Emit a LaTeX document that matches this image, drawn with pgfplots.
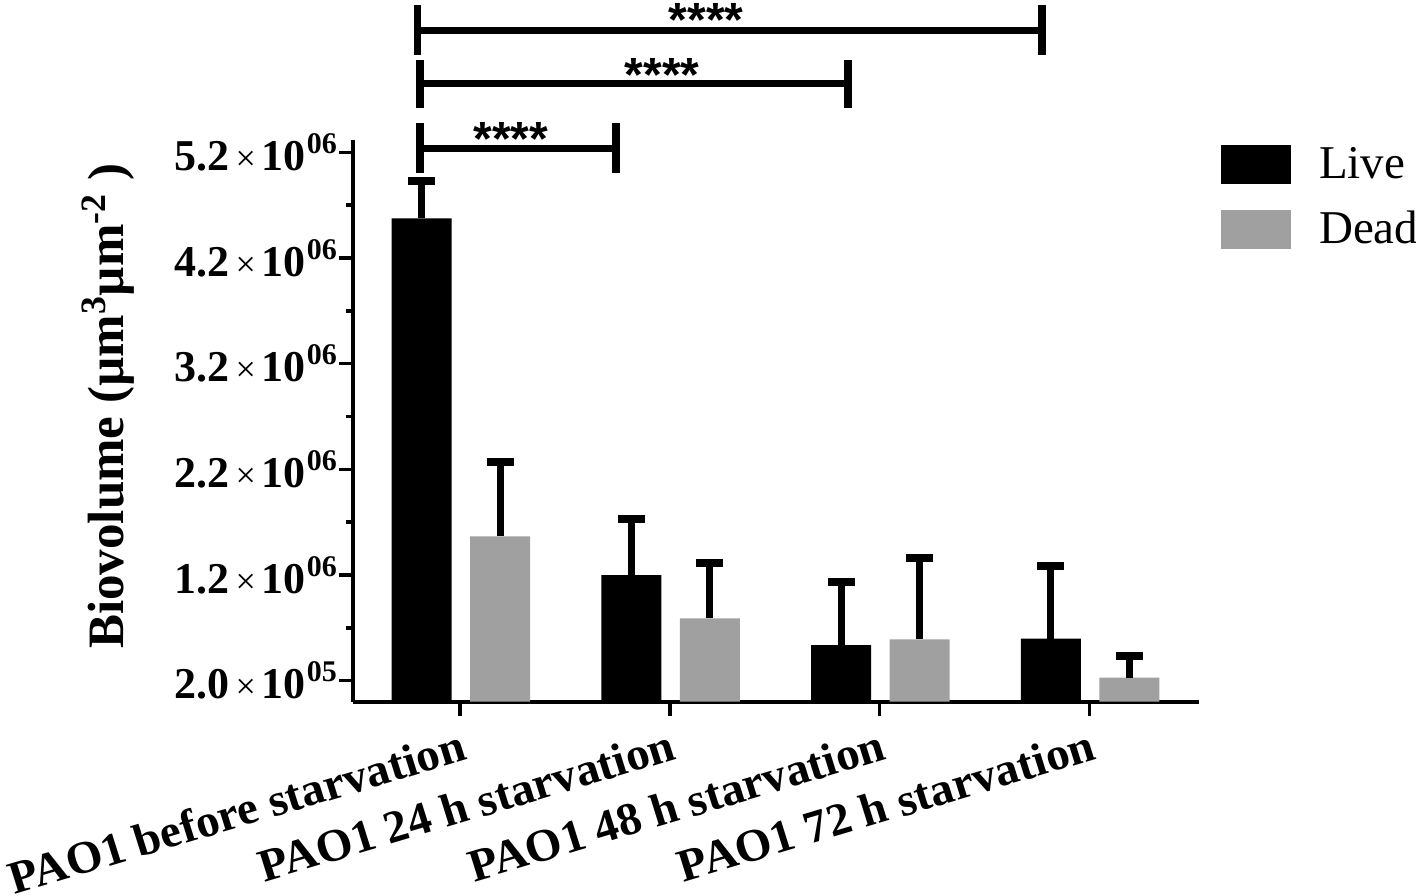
\documentclass[border=0pt]{standalone}
\usepackage{pgfplots}
\pgfplotsset{compat=1.18}
\usepackage{fontspec}
\setmainfont{Liberation Serif}
\newfontfamily\starfont{Liberation Sans}
\definecolor{deadgray}{RGB}{160,160,160}
\newcommand{\ytl}[2]{\textbf{#1}\hspace{3pt}{\mdseries\fontsize{18}{18}\selectfont ×}\hspace{3pt}\textbf{10}\hspace{0.5pt}\raisebox{8.5pt}{\fontsize{15}{15}\selectfont\bfseries #2}}
\begin{document}
\begin{tikzpicture}
\begin{axis}[
  scale only axis,
  width=423pt, height=280.85pt,
  xmin=-0.5087, xmax=3.524,
  ymin=0, ymax=5.317e6,
  axis x line*=bottom, axis y line*=left,
  axis line style={line width=2pt, -},
  xtick={0,1,2,3},
  xticklabels={PAO1 before starvation, PAO1 24 h starvation, PAO1 48 h starvation, PAO1 72 h starvation},
  xticklabel style={font=\fontsize{23}{25}\selectfont\bfseries, anchor=north east, inner sep=0pt, yshift=-6pt, xshift=-0.5pt, xscale=1.025, rotate=17},
  ytick={2e5,1.2e6,2.2e6,3.2e6,4.2e6,5.2e6},
  yticklabels={\ytl{2.0}{05},\ytl{1.2}{06},\ytl{2.2}{06},\ytl{3.2}{06},\ytl{4.2}{06},\ytl{5.2}{06}},
  minor ytick={7e5,1.7e6,2.7e6,3.7e6,4.7e6},
  scaled y ticks=false,
  tick align=outside,
  major tick length=7pt, minor tick length=3.5pt,
  every tick/.style={line width=1.75pt, black},
  yticklabel style={font=\fontsize{22}{23}\selectfont, inner sep=1pt},
  ylabel={\textbf{Biovolume (µm\textsuperscript{3}µm\textsuperscript{-2} )}},
  ylabel style={font=\fontsize{25.5}{27}\selectfont, at={(axis description cs:-0.29,0.526)}, anchor=center},
  ybar, bar width=30pt,
  clip=false,
  legend style={at={(axis description cs:1.0253,0.9911)}, anchor=north west, draw=none, fill=none,
    inner sep=0pt, nodes={inner sep=0pt}, cells={anchor=west}, row sep=13pt,
    font=\fontsize{23.5}{25}\selectfont,
    /tikz/every odd column/.append style={column sep=14.3pt}},
]
\coordinate (sw) at (rel axis cs:0,0);
\addplot[fill=black, draw=none, bar shift=-19.2pt, forget plot,
  error bars/.cd, y dir=plus, y explicit,
  error bar style={line width=3.5pt, draw=black},
  error mark options={rotate=90, line width=4pt, mark size=6.75pt, draw=black}]
  coordinates {(0,4575000) +- (0,355000) (1,1198000) +- (0,527000) (2,535000) +- (0,594000) (3,598000) +- (0,684000)};
\addplot[fill=deadgray, draw=none, bar shift=20pt, forget plot,
  error bars/.cd, y dir=plus, y explicit,
  error bar style={line width=3.5pt, draw=black},
  error mark options={rotate=90, line width=4pt, mark size=6.75pt, draw=black}]
  coordinates {(0,1566000) +- (0,705000) (1,788000) +- (0,521000) (2,591000) +- (0,774000) (3,228000) +- (0,205000)};
\addlegendimage{legend image code/.code={\fill[black] (0pt,-9.425pt) rectangle (34.3pt,9.425pt);}}
\addlegendentry{Live}
\addlegendimage{legend image code/.code={\fill[deadgray] (0pt,-9.425pt) rectangle (34.3pt,9.425pt);}}
\addlegendentry{Dead}
% significance brackets
\draw[line width=3.6pt, line cap=butt] (axis cs:-0.2017,6.595e6) -- (axis cs:-0.2017,6.121e6);
\draw[line width=3.6pt, line cap=butt] (axis cs:2.7745,6.595e6) -- (axis cs:2.7745,6.121e6);
\draw[line width=3.6pt] (axis cs:-0.2017,6.351e6) -- (axis cs:2.7745,6.351e6);
\draw[line width=3.6pt, line cap=butt] (axis cs:-0.1907,6.074e6) -- (axis cs:-0.1907,5.619e6);
\draw[line width=3.6pt, line cap=butt] (axis cs:1.8497,6.074e6) -- (axis cs:1.8497,5.619e6);
\draw[line width=3.6pt] (axis cs:-0.1907,5.853e6) -- (axis cs:1.8497,5.853e6);
\draw[line width=3.6pt, line cap=butt] (axis cs:-0.1907,5.477e6) -- (axis cs:-0.1907,5.004e6);
\draw[line width=3.6pt, line cap=butt] (axis cs:0.7437,5.477e6) -- (axis cs:0.7437,5.004e6);
\draw[line width=3.6pt] (axis cs:-0.1907,5.238e6) -- (axis cs:0.7437,5.238e6);
\node[font=\starfont\bfseries\fontsize{24}{24}\selectfont, anchor=north, inner sep=0pt] at (axis cs:1.173,6.614e6) {****};
\node[font=\starfont\bfseries\fontsize{24}{24}\selectfont, anchor=north, inner sep=0pt] at (axis cs:0.963,6.093e6) {****};
\node[font=\starfont\bfseries\fontsize{24}{24}\selectfont, anchor=north, inner sep=0pt] at (axis cs:0.243,5.487e6) {****};
\end{axis}
\pgfresetboundingbox
\path ([shift={(-176.65pt,-96.65pt)}]sw) rectangle ([shift={(531.35pt,350.85pt)}]sw);
\end{tikzpicture}
\end{document}
